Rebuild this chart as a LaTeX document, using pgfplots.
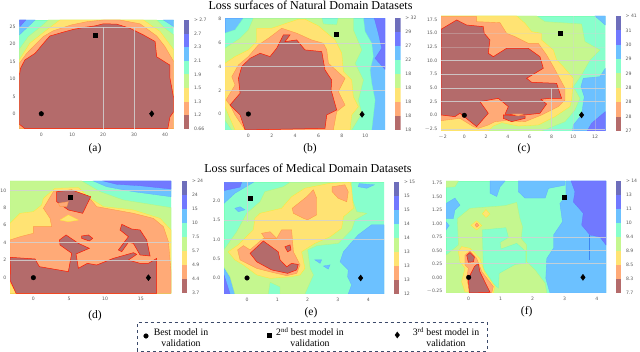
\documentclass[border=0pt]{standalone}
\usepackage{fontspec}
\setmainfont{Liberation Serif}
\newfontfamily\tickf{DejaVu Sans}
\usepackage{pgfplots}
\pgfplotsset{compat=1.18}
\definecolor{cBr}{HTML}{B46B6B}
\definecolor{cOr}{HTML}{FFAA77}
\definecolor{cYe}{HTML}{FFE373}
\definecolor{cGr}{HTML}{C5F78F}
\definecolor{cAq}{HTML}{88FFCC}
\definecolor{cLb}{HTML}{6CC1FF}
\definecolor{cBl}{HTML}{7179FF}
\definecolor{cDk}{HTML}{6E6EBB}
\definecolor{cBx}{HTML}{3C4A6A}
\definecolor{cGL}{HTML}{D2D2D2}
\definecolor{cLn}{HTML}{3D86F0}
\pgfplotsset{
 Br/.style={fill=cBr,draw=red!80!orange,line width=.5pt,no marks},
 Or/.style={fill=cOr,draw=orange!40!cOr,line width=.4pt,no marks},
 Ye/.style={fill=cYe,draw=yellow!60!cYe,line width=.3pt,no marks},
 Gr/.style={fill=cGr,draw=cGr!90!green,line width=.3pt,no marks},
 Aq/.style={fill=cAq,draw=cAq!90!green,line width=.3pt,no marks},
 Lb/.style={fill=cLb,draw=cLb!90!blue,line width=.3pt,no marks},
 Bl/.style={fill=cBl,draw=cBl!90!blue,line width=.3pt,no marks},
 GL/.style={draw=cGL,opacity=.85,line width=.8pt,no marks},
 Mc/.style={only marks,mark=*,mark size=2.3pt,black},
 Ms/.style={only marks,mark=square*,mark size=2pt,black},
 Md/.style={only marks,mark=diamond*,mark size=3pt,black},
 panel/.style={scale only axis,anchor=south west,axis line style={draw=none},
  every tick/.style={draw=none},major tick length=0pt,clip=true,
  tick label style={font=\tickf\fontsize{4.6}{5.5}\selectfont,text=black!65,inner sep=1.5pt},
  xticklabel style={yshift=-2.5pt},yticklabel style={xshift=-2pt}},
}
\newcommand{\cbar}[5]{% left, bottom, width, height, labels
\begin{axis}[scale only axis,anchor=south west,at={(#1pt,#2pt)},width=#3pt,height=#4pt,
 xmin=0,xmax=1,ymin=0,ymax=8,axis line style={draw=none},every tick/.style={draw=none},major tick length=0pt,
 xtick=\empty,ytick={0,...,8},yticklabels={#5},yticklabel pos=right,
 tick label style={font=\tickf\fontsize{4.6}{5.5}\selectfont,text=black!65,inner sep=1.5pt},yticklabel style={xshift=3pt}]
\addplot[fill=cBr,draw=none] coordinates {(0,0)(1,0)(1,1)(0,1)} --cycle;
\addplot[fill=cOr,draw=none] coordinates {(0,1)(1,1)(1,2)(0,2)} --cycle;
\addplot[fill=cYe,draw=none] coordinates {(0,2)(1,2)(1,3)(0,3)} --cycle;
\addplot[fill=cGr,draw=none] coordinates {(0,3)(1,3)(1,4)(0,4)} --cycle;
\addplot[fill=cAq,draw=none] coordinates {(0,4)(1,4)(1,5)(0,5)} --cycle;
\addplot[fill=cLb,draw=none] coordinates {(0,5)(1,5)(1,6)(0,6)} --cycle;
\addplot[fill=cBl,draw=none] coordinates {(0,6)(1,6)(1,7)(0,7)} --cycle;
\addplot[fill=cDk,draw=none] coordinates {(0,7)(1,7)(1,8)(0,8)} --cycle;
\end{axis}}
\begin{document}
\begin{tikzpicture}[x=1pt,y=1pt]
\path[use as bounding box] (0,0) rectangle (640,352);
% ---------- (a)
\begin{axis}[panel,at={(19.3pt,223.3pt)},width=154.4pt,height=108.7pt,xmin=-7.1,xmax=42.8,ymin=-4.3,ymax=27,
 xtick={0,10,20,30,40},xticklabels={0,10,20,30,40},ytick={0,5,10,15,20,25},yticklabels={0,5,10,15,20,25}]
\addplot[Aq] coordinates {(-7.1,-4.3)(42.8,-4.3)(42.8,27)(-7.1,27)} --cycle;
\addplot[Lb] coordinates {(-7.1,27)(-2,27)(-7.1,22.7)} --cycle;
\addplot[Lb] coordinates {(39.5,27)(42.8,27)(42.8,25.1)} --cycle;
\addplot[Bl] coordinates {(-7.1,27)(-5,27)(-6.9,25.1)} --cycle;
\addplot[Gr] coordinates {(-7.1,18.6)(-4.2,22.2)(-.4,24.9)(2.3,27)(37.3,27)(40,24.6)(42.8,22.7)(42.8,-4.3)(-7.1,-4.3)} --cycle;
\addplot[Ye] coordinates {(-7.1,15.5)(-3.7,20.3)(1.7,24.1)(6,27)(33,27)(38.4,23.7)(42.8,18.4)(42.8,-4.3)(-7.1,-4.3)} --cycle;
\addplot[Or] coordinates {(-7.1,14.5)(-4.7,17.4)(.6,22.2)(3.9,23.9)(9.8,25.6)(14.7,26.5)(20.1,27)(25.4,27)(31.9,25.9)(37.3,22.4)(40,19.3)(42.8,15)(42.8,-4.3)(-7.1,-4.3)} --cycle;
\addplot[Br] coordinates {(-7.1,10.9)(-6.7,13.1)(-5.3,15.5)(-2,17.4)(1.2,20.8)(2.8,22.4)(7.1,23.5)(10.4,24.3)(14.1,24.9)(17.4,25.3)(20.1,25.9)(24.4,25.8)(28.7,24.6)(33,22.7)(36.8,20.8)(37.3,16.4)(41.6,14)(41.6,10.2)(42.8,4.4)(42.8,.6)(41.6,-.9)(40.9,-4.3)(-5.3,-4.3)(-7.1,-3)} --cycle;
\addplot[GL] coordinates {(20,-4.3)(20,25)};
\addplot[GL] coordinates {(30,-4.3)(30,25)};
\addplot[GL] coordinates {(-7.1,25)(42.8,25)};
\addplot[Mc] coordinates {(0,0)};
\addplot[Ms] coordinates {(17.4,22.5)};
\addplot[Md] coordinates {(35.7,0)};
\end{axis}
\cbar{184}{223.3}{5.3}{108.7}{0.66,1.2,1.3,1.5,1.9,2.1,2.3,2.7,> 2.7}
% ---------- (b)
\begin{axis}[panel,at={(225pt,222pt)},width=160pt,height=111.7pt,xmin=-2,xmax=11.68,ymin=-1.35,ymax=8.08,
 xtick={0,2,4,6,8,10},xticklabels={0,2,4,6,8,10},ytick={0,2,4,6,8},yticklabels={0,2,4,6,8}]
\addplot[Lb] coordinates {(-2,-1.35)(11.68,-1.35)(11.68,8.08)(-2,8.08)} --cycle;
\addplot[Bl] coordinates {(10.77,8.08)(11.68,8.08)(11.68,3.77)(10.83,4.7)(11.4,5.55)(11.11,6.82)} --cycle;
\addplot[Aq] coordinates {(-2,6.82)(-1.14,7.1)(-.43,8.08)(9.83,8.08)(9.97,6.96)(10.54,5.97)(10.68,4.85)(10.4,3.72)(10.54,2.59)(10.83,1.18)(10.54,-1.35)(-2,-1.35)} --cycle;
\addplot[Gr] coordinates {(-2,5.55)(-.71,6.39)(0,7.1)(.43,8.08)(6.27,8.08)(6.41,7.6)(7.55,7.52)(7.69,8.08)(8.97,8.08)(8.97,7.1)(9.69,5.41)(9.12,4.28)(9.83,2.87)(9.4,1.18)(9.69,.06)(8.83,-1.35)(-1.42,-1.35)(-2,-.51)} --cycle;
\addplot[Ye] coordinates {(-2,4.28)(-1.14,4.85)(0,5.41)(.71,6.11)(.71,7.24)(1.99,7.24)(4.27,8)(4.84,8)(5.98,7.44)(7.41,6.25)(7.98,5.13)(8.12,3.58)(8.83,2.87)(8.97,1.46)(9.4,.62)(8.83,-.08)(8.69,-1.35)(-1.14,-1.35)(-2,.62)} --cycle;
\addplot[Or] coordinates {(-1.57,.76)(-1.91,1.18)(-1.14,2.45)(-1.42,3.15)(-.85,4.14)(0,4.85)(.85,5.83)(1.71,6.39)(2.85,7.24)(4.13,6.82)(5.41,6.25)(6.41,5.97)(6.7,5.41)(6.84,4.28)(8.26,3.01)(7.69,1.89)(8.26,.76)(7.55,.2)(7.26,-1.35)(-.28,-1.35)(-1.14,-.08)} --cycle;
\addplot[Br] coordinates {(-1.57,.76)(-.71,1.75)(-.85,3.01)(-.57,4)(.14,4.7)(1,5.13)(1.85,4.85)(2.42,5.55)(2.71,6.11)(2.99,6.68)(3.56,6.68)(3.13,6.11)(4.13,6.25)(4.84,5.41)(6.27,5.27)(6.55,3.72)(7.12,2.87)(7.07,2.03)(7.55,.34)(6.7,-.08)(6.55,-1.21)(-.28,-1.35)(-.71,-.08)} --cycle;
\addplot[GL] coordinates {(-2,2)(11.68,2)};
\addplot[GL] coordinates {(-2,4)(11.68,4)};
\addplot[GL] coordinates {(-2,6)(11.68,6)};
\addplot[Mc] coordinates {(0,0)};
\addplot[Ms] coordinates {(7.55,6.73)};
\addplot[Md] coordinates {(9.72,-.03)};
\end{axis}
\cbar{395}{222}{5.7}{111.7}{18,18,18,18,18,22,27,29,> 32}
% ---------- (c)
\begin{axis}[panel,at={(441pt,221pt)},width=164.3pt,height=115pt,xmin=-2.14,xmax=12.94,ymin=-2.87,ymax=18.17,
 xtick={-2,0,2,4,6,8,10,12},xticklabels={$-$2,0,2,4,6,8,10,12},ytick={-2.5,0,2.5,5,7.5,10,12.5,15,17.5},yticklabels={$-$2.5,0.0,2.5,5.0,7.5,10.0,12.5,15.0,17.5}]
\addplot[Aq] coordinates {(-2.14,-2.87)(12.94,-2.87)(12.94,18.17)(-2.14,18.17)} --cycle;
\addplot[Lb] coordinates {(11.99,18.17)(12.94,18.17)(12.94,16.52)} --cycle;
\addplot[Lb] coordinates {(12.94,8.6)(12.45,7.07)(10.92,6.77)(10.7,5.24)(11.01,3.41)(10.76,.06)(10,-1.77)(9.94,-2.87)(12.94,-2.87)} --cycle;
\addplot[Bl] coordinates {(11.28,-2.87)(11.68,-1.46)(12.94,.67)(12.94,-2.87)} --cycle;
\addplot[Gr] coordinates {(-2.14,18.17)(6.64,18.17)(7.4,17.13)(10.76,16.7)(11.07,13.48)(12.45,11.95)(11.53,10.12)(10.76,7.38)(10,5.24)(10.61,3.11)(10.15,.98)(9.24,-1.16)(7.71,-2.38)(7.09,-2.87)(-2.14,-2.87)} --cycle;
\addplot[Ye] coordinates {(-2.14,18.17)(4.8,18.17)(5.57,16.83)(6.18,15.3)(7.09,15)(7.09,13.78)(8.17,11.95)(8.47,10.12)(9.08,8.9)(10,6.77)(9.85,2.8)(9.69,1.59)(8.32,-.24)(6.79,-1.77)(4.95,-1.95)(3.43,-1.34)(2.66,-1.95)(2.2,-2.87)(-2.14,-2.87)} --cycle;
\addplot[Or] coordinates {(-2.14,18.05)(1.13,18.05)(1.13,17.13)(3.27,16.95)(3.88,15)(4.65,14.39)(5.87,13.17)(6.79,13.17)(7.55,11.04)(8.17,8.9)(9.24,4.94)(9.24,2.8)(8.62,1.59)(7.09,.06)(5.57,-1.16)(3.73,-.98)(2.81,-1.16)(2.2,-1.77)(1.28,-2.38)(.83,-2.07)(-.4,-.55)(-2.14,-.98)} --cycle;
\addplot[Br] coordinates {(-2.14,15.73)(-.7,17.44)(.21,16.52)(1.74,16.22)(1.83,15)(2.35,13.78)(2.2,11.34)(2.66,10.73)(3.88,12.26)(5.87,12.26)(6.94,10.73)(7.25,8.6)(5.72,6.77)(6.18,6.04)(8.47,5.85)(8.93,3.11)(7.86,3.11)(7.03,2.93)(7.55,2.07)(6.94,.37)(5.57,.06)(3.73,.18)(4.04,1.59)(3.12,3.11)(1.44,2.5)(2.2,.37)(1.13,-2.07)(-.4,.37)(-.86,-.24)(-2.14,.06)} --cycle;
\addplot[Br] coordinates {(3.58,.06)(5.57,-.12)(5.57,-.55)(4.34,-1.16)(3.58,-.55)} --cycle;
\addplot[Or] coordinates {(4.4,.24)(5.41,.24)(4.95,-.12)} --cycle;
\addplot[GL] coordinates {(-2.14,2.5)(12.94,2.5)};
\addplot[GL] coordinates {(-2.14,5)(12.94,5)};
\addplot[GL] coordinates {(-2.14,7.5)(12.94,7.5)};
\addplot[GL] coordinates {(-2.14,10)(12.94,10)};
\addplot[GL] coordinates {(-2.14,-2.5)(12.94,-2.5)};
\addplot[GL] coordinates {(8,-2.87)(8,5)};
\addplot[GL,opacity=.4] coordinates {(10,-2.87)(10,18.17)};
\addplot[GL,opacity=.4] coordinates {(12,-2.87)(12,18.17)};
\addplot[GL,opacity=.35] coordinates {(-2.14,15)(12.94,15)};
\addplot[GL,opacity=.35] coordinates {(-2.14,12.5)(12.94,12.5)};
\addplot[Mc] coordinates {(0,0)};
\addplot[Ms] coordinates {(8.84,15.1)};
\addplot[Md] coordinates {(10.76,.06)};
\end{axis}
\cbar{615.7}{221}{5.3}{115}{27,28,28,28,29,29,30,31,> 41}
% ---------- (d)
\begin{axis}[panel,at={(10pt,58.7pt)},width=161pt,height=112.3pt,xmin=-3.26,xmax=19.2,ymin=-1.79,ymax=11.07,
 xtick={0,5,10,15},xticklabels={0,5,10,15},ytick={0,2,4,6,8,10},yticklabels={0,2,4,6,8,10}]
\addplot[Aq] coordinates {(-3.26,-1.79)(19.2,-1.79)(19.2,11.07)(-3.26,11.07)} --cycle;
\addplot[Lb] coordinates {(8.37,11.07)(19.2,11.07)(19.2,9.27)(13.95,9.85)(10.23,10.42)} --cycle;
\addplot[Bl] coordinates {(9.77,11.07)(19.2,11.07)(19.2,10.15)(14.88,10.53)(11.63,10.69)} --cycle;
\addplot[Gr] coordinates {(-3.26,11.07)(6.74,11.07)(9.3,9.85)(12.56,8.89)(19.2,8.02)(19.2,-1.79)(-3.26,-1.79)} --cycle;
\addplot[Ye] coordinates {(-3.26,6.22)(-1.86,7.37)(0,7.56)(1.16,8.32)(1.4,9.08)(3.02,10.23)(6.28,10.31)(7.91,9.08)(9.77,8.13)(13.95,7.75)(17.67,6.79)(19.2,5.46)(19.2,-1.79)(-3.26,-1.79)} --cycle;
\addplot[Or] coordinates {(-3.26,4.31)(-1.86,4.69)(0,5.08)(0,5.84)(2.56,5.84)(2.33,6.79)(1.4,7.94)(2.79,9.85)(5.12,10.04)(7.67,9.27)(8.84,8.13)(13.95,7.37)(16.74,6.79)(18.14,5.84)(18.84,4.12)(19.2,.69)(19.2,-1.79)(-3.26,-1.79)} --cycle;
\addplot[Ye] coordinates {(-3.26,-.65)(-2.33,-1.79)(-3.26,-1.79)} --cycle;
\addplot[Ye] coordinates {(3.72,6.6)(4.88,7.18)(6.28,6.6)(4.88,6.41)} --cycle;
\addplot[Br] coordinates {(-3.26,2.33)(.23,2.14)(.84,1.26)(4.88,.69)(5.35,2.79)(3.72,3.74)(3.63,4.31)(4.56,4.89)(6.28,3.93)(7.81,3.36)(5.95,2.71)(6.28,1.07)(7.53,1.64)(8.84,1.45)(11.16,2.21)(13.95,2.86)(14.42,2.67)(13.26,2.02)(14.88,1.64)(16.05,1.64)(17.21,2.21)(17.21,-1.79)(-2.42,-1.79)(-3.26,-.27)(-3.2,.88)} --cycle;
\addplot[Br] coordinates {(3.26,9.85)(5.35,10.04)(8,9.27)(6.88,7.37)(4.88,7.75)(3.26,8.7)} --cycle;
\addplot[Or] coordinates {(3.49,8.51)(4.88,8.7)(4.65,8.13)(3.72,8.13)} --cycle;
\addplot[Br] coordinates {(6.74,4.77)(7.67,4.89)(8.28,4.5)(7.81,4.2)(6.74,4.5)} --cycle;
\addplot[Br] coordinates {(12.33,6.11)(13.72,5.57)(14.88,5.46)(15.81,4.31)(16.28,2.48)(14.88,2.6)(13.95,3.93)(13.26,4.05)(12.33,2.98)(11.86,3.17)(13.26,4.69)(12.09,5.46)} --cycle;
\addplot[GL] coordinates {(-3.26,2)(19.2,2)};
\addplot[GL] coordinates {(-3.26,4)(19.2,4)};
\addplot[GL] coordinates {(-3.26,10)(19.2,10)};
\addplot[Mc] coordinates {(0,0)};
\addplot[Ms] coordinates {(5.2,9.2)};
\addplot[Md] coordinates {(16.05,0)};
\end{axis}
\cbar{181.7}{58.7}{5.6}{112.3}{3.7,4.4,4.9,5.7,7.5,10,15,24,> 24}
% ---------- (e)
\begin{axis}[panel,at={(224pt,58pt)},width=160pt,height=111.7pt,xmin=-.76,xmax=4.52,ymin=-.416,ymax=2.485,
 xtick={0,1,2,3,4},xticklabels={0,1,2,3,4},ytick={0,.5,1,1.5,2},yticklabels={0.0,0.5,1.0,1.5,2.0}]
\addplot[Aq] coordinates {(-.76,-.416)(4.52,-.416)(4.52,2.485)(-.76,2.485)} --cycle;
\addplot[Lb] coordinates {(-.76,2.485)(.21,2.485)(-.4,2.2)(-.76,1.94)} --cycle;
\addplot[Bl] coordinates {(-.76,2.485)(-.18,2.485)(-.23,2.36)(-.76,2.27)} --cycle;
\addplot[Lb] coordinates {(-.76,.25)(-.51,-.05)(-.4,-.416)(-.76,-.416)} --cycle;
\addplot[Bl] coordinates {(-.76,.08)(-.56,-.416)(-.76,-.416)} --cycle;
\addplot[Lb] coordinates {(4.52,1.38)(4.11,1.38)(3.67,1.12)(3.18,.68)(3.07,.42)(3.34,.21)(3.32,.03)(3.45,-.18)(3.34,-.416)(4.52,-.416)} --cycle;
\addplot[Lb] coordinates {(3.67,2.37)(3.95,2.33)(4.2,2.42)(3.7,2.45)} --cycle;
\addplot[Lb] coordinates {(-.4,1.81)(-.23,1.85)(-.07,1.77)(-.29,1.72)} --cycle;
\addplot[Lb] coordinates {(2.24,.47)(2.46,.47)(2.41,.38)} --cycle;
\addplot[Lb] coordinates {(2.52,.31)(2.74,.34)(2.68,.23)} --cycle;
\addplot[Gr] coordinates {(-.76,.73)(-.34,1.2)(-.01,1.68)(.43,1.98)(.59,2.24)(1.2,2.37)(1.42,2.485)(3.45,2.485)(3.45,2.11)(3.62,1.72)(3.95,1.68)(3.56,1.51)(3.45,1.25)(3.01,.9)(2.3,.84)(2,.73)(2.08,.25)(2.19,.08)(1.91,-.416)(1.09,-.416)(1.09,-.23)(.76,-.11)(.7,-.416)(-.4,-.416)(-.56,.03)(-.76,.29)} --cycle;
\addplot[Ye] coordinates {(-.29,.86)(.21,1.25)(.26,1.55)(.43,1.68)(1.14,1.81)(1.47,2.11)(1.91,2.33)(2.74,2.46)(3.4,2.485)(3.45,2.33)(3.51,1.81)(3.18,1.59)(3.12,1.29)(2.74,1.07)(2.24,.9)(1.8,.68)(1.91,.25)(1.75,.08)(1.42,.03)(.76,-.01)(.32,.08)(-.12,.34)(-.4,.47)(-.62,.68)} --cycle;
\addplot[Or] coordinates {(1.49,1.81)(1.97,2.11)(2.19,2.29)(2.3,2.07)(2.3,1.64)(2,1.51)(1.86,1.55)(1.53,1.68)} --cycle;
\addplot[Or] coordinates {(2.81,2.37)(3.23,2.42)(3.34,2.24)(3.29,1.98)(3.01,2.07)(2.81,2.24)} --cycle;
\addplot[Or] coordinates {(-.31,.73)(-.12,.84)(.1,.73)(.54,1.03)(.98,1.03)(1.14,1.25)(1.47,1.25)(1.53,.68)(1.75,.34)(1.64,.12)(1.31,.06)(.76,.16)(.32,.25)(-.23,.47)} --cycle;
\addplot[Or] coordinates {(.48,1.16)(.76,1.2)(.98,1.03)(.59,1.03)} --cycle;
\addplot[Br] coordinates {(.1,.64)(.54,.96)(1.03,.68)(1.09,.47)(1.31,.29)(1.47,.38)(1.69,.35)(1.64,.21)(1.34,.12)(.81,.21)(.32,.42)} --cycle;
\addplot[Br] coordinates {(1.25,.81)(1.42,.86)(1.45,.73)(1.34,.68)} --cycle;
\addplot[GL] coordinates {(-.76,1)(4.52,1)};
\addplot[GL] coordinates {(-.76,1.5)(4.52,1.5)};
\addplot[GL] coordinates {(0,1.45)(0,2.485)};
\addplot[Mc] coordinates {(0,0)};
\addplot[Ms] coordinates {(.1,2.08)};
\addplot[Md] coordinates {(3.75,0)};
\end{axis}
\cbar{394}{58}{5.3}{111.7}{12,13,13,13,14,14,15,15,> 15}
% ---------- (f)
\begin{axis}[panel,at={(446pt,59pt)},width=160pt,height=112pt,xmin=-.708,xmax=4.29,ymin=-.29,ymax=1.787,
 xtick={0,1,2,3,4},xticklabels={0,1,2,3,4},ytick={-.25,0,.25,.5,.75,1,1.25,1.5,1.75},yticklabels={$-$0.25,0.00,0.25,0.50,0.75,1.00,1.25,1.50,1.75}]
\addplot[Aq] coordinates {(-.708,-.29)(4.29,-.29)(4.29,1.787)(-.708,1.787)} --cycle;
\addplot[Lb] coordinates {(1.55,1.787)(3.01,1.787)(3.01,1.71)(2.49,1.65)(2.39,1.47)(1.76,1.47)(1.55,1.59)} --cycle;
\addplot[Lb] coordinates {(3.04,1.787)(4.29,1.787)(4.29,-.29)(2.54,-.29)(2.41,-.02)(2.44,.35)(2.65,.54)(2.65,.785)(2.93,1.03)(2.85,1.37)(3.04,1.5)} --cycle;
\addplot[Lb] coordinates {(.67,1.787)(1.14,1.787)(.98,1.68)(.875,1.5)(.67,1.56)} --cycle;
\addplot[Lb] coordinates {(-.708,1.37)(-.43,1.47)(-.27,1.34)(-.43,1.25)(-.48,1.09)(-.708,1.09)} --cycle;
\addplot[Lb] coordinates {(-.708,1.03)(-.61,.96)(-.708,.88)} --cycle;
\addplot[Bl] coordinates {(3.2,1.787)(4.29,1.787)(4.29,.6)(4.1,.75)(3.79,.785)(3.53,.97)(3.58,1.19)(3.27,1.4)(3.32,1.59)} --cycle;
\addplot[draw=cLn,line width=.7pt,no marks] coordinates {(3.77,.785)(3.77,.32)};
\addplot[Gr] coordinates {(-.32,1.787)(-.43,1.68)(-.708,1.67)(-.708,1.787)} --cycle;
\addplot[Gr] coordinates {(-.708,.41)(-.32,.6)(-.35,1.09)(.04,1.28)(1.14,1.33)(1.5,1.39)(1.6,1.09)(1.68,.94)(1.64,.72)(1.81,.6)(1.81,.29)(2.07,.14)(2.39,-.11)(2.44,-.29)(-.708,-.29)} --cycle;
\addplot[Aq] coordinates {(.43,.88)(1.16,.92)(1.24,.74)(.98,.65)(1.01,.525)(1.5,.63)(1.78,.48)(1.78,.26)(1.45,.24)(.95,.075)(.93,-.2)(.77,-.11)(.46,.17)} --cycle;
\addplot[Ye] coordinates {(-.32,.48)(-.22,.57)(.04,.54)(.35,.35)(.49,.105)(.82,-.17)(.77,-.29)(-.115,-.27)(-.22,-.08)(-.115,.17)(-.27,.29)} --cycle;
\addplot[Ye] coordinates {(.43,1.18)(.54,1.26)(.66,1.175)(.54,1.11)} --cycle;
\addplot[Ye] coordinates {(.07,.965)(.25,1.05)(.41,.96)(.25,.88)} --cycle;
\addplot[Or] coordinates {(-.115,.41)(.04,.49)(.25,.35)(.41,.105)(.77,-.17)(.72,-.29)(.04,-.29)(-.06,-.02)(-.01,.17)(-.115,.23)} --cycle;
\addplot[Or] coordinates {(.2,.97)(.25,1.01)(.32,.965)(.25,.93)} --cycle;
\addplot[Br] coordinates {(-.06,.41)(.04,.46)(.18,.38)(.15,.29)(-.01,.28)} --cycle;
\addplot[Br] coordinates {(.18,.2)(.3,.26)(.35,.105)(.67,-.28)(.02,-.29)(-.01,-.02)} --cycle;
\addplot[GL] coordinates {(-.708,.25)(4.29,.25)};
\addplot[GL] coordinates {(-.708,.5)(4.29,.5)};
\addplot[GL] coordinates {(-.708,.75)(4.29,.75)};
\addplot[Mc] coordinates {(0,0)};
\addplot[Ms] coordinates {(2.99,1.48)};
\addplot[Md] coordinates {(3.57,0)};
\end{axis}
\cbar{616}{59}{5.3}{112}{7.7,8.3,8.5,8.9,9.4,10,11,13,> 14}
% ---------- titles and labels
\node[font=\fontsize{12.1}{14}\selectfont] at (310.5,346.5) {Loss surfaces of Natural Domain Datasets};
\node[font=\fontsize{12.1}{14}\selectfont] at (308,184) {Loss surfaces of Medical Domain Datasets};
\foreach \t/\x/\y in {(a)/95/203,(b)/310/203,(c)/524/203,(d)/95/36.3,(e)/311/39.3,(f)/526.7/40.3}
 \node[font=\fontsize{11.5}{13}\selectfont] at (\x,\y) {\t};
% ---------- legend
\draw[cBx,dashed,line width=.7pt] (137,1) rectangle (487,29.3);
\begin{axis}[scale only axis,anchor=south west,at={(137pt,1pt)},width=350pt,height=28.3pt,xmin=0,xmax=350,ymin=0,ymax=28.3,hide axis]
\addplot[Mc] coordinates {(9,15)};
\addplot[Ms] coordinates {(132.3,16)};
\addplot[Md] coordinates {(260.3,16)};
\end{axis}
\foreach \x/\t in {181/Best model in,310/2\textsuperscript{nd} best model in,446/3\textsuperscript{rd} best model in}
 \node[font=\fontsize{9.8}{11}\selectfont,inner sep=0pt] at (\x,20.3) {\t};
\foreach \x in {181,310,446}
 \node[font=\fontsize{9.8}{11}\selectfont,inner sep=0pt] at (\x,8.7) {validation};
\end{tikzpicture}
\end{document}
